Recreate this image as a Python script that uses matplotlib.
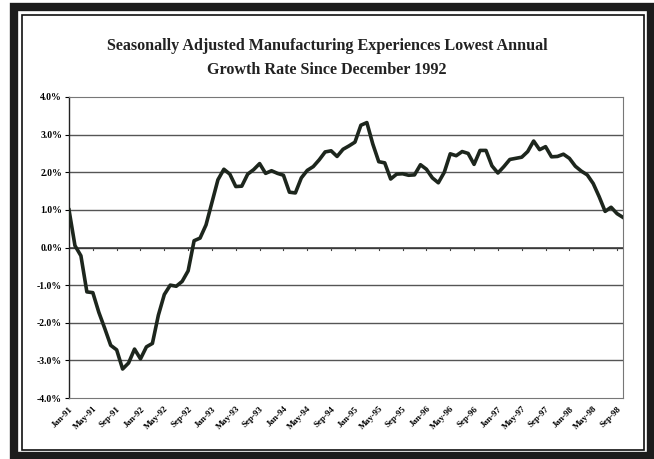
import numpy as np
import matplotlib
matplotlib.use("Agg")
import matplotlib.pyplot as plt
from matplotlib.patches import Rectangle

# monthly annual growth rate (%), Jan-91 .. Oct-98
growth = [
    1.00, 0.05, -0.22, -1.18, -1.20, -1.72, -2.15, -2.60, -2.72, -3.23,
    -3.07, -2.70, -2.96, -2.64, -2.55, -1.80, -1.25, -1.00, -1.03, -0.90,
    -0.62, 0.18, 0.25, 0.60, 1.20, 1.80, 2.08, 1.95, 1.62, 1.63,
    1.95, 2.07, 2.23, 1.97, 2.04, 1.97, 1.92, 1.47, 1.45, 1.85,
    2.05, 2.15, 2.33, 2.54, 2.57, 2.42, 2.61, 2.70, 2.80, 3.25,
    3.32, 2.75, 2.28, 2.25, 1.82, 1.95, 1.96, 1.92, 1.93, 2.20,
    2.08, 1.85, 1.72, 2.00, 2.49, 2.44, 2.55, 2.50, 2.21, 2.58,
    2.58, 2.17, 1.98, 2.15, 2.34, 2.37, 2.40, 2.55, 2.83, 2.60,
    2.68, 2.41, 2.42, 2.48, 2.37, 2.16, 2.03, 1.93, 1.70, 1.35,
    0.96, 1.07, 0.90, 0.80,
]

tick_labels = [
    "Jan-91", "May-91", "Sep-91", "Jan-92", "May-92", "Sep-92",
    "Jan-93", "May-93", "Sep-93", "Jan-94", "May-94", "Sep-94",
    "Jan-95", "May-95", "Sep-95", "Jan-96", "May-96", "Sep-96",
    "Jan-97", "May-97", "Sep-97", "Jan-98", "May-98", "Sep-98",
]
y_ticks = [-4, -3, -2, -1, 0, 1, 2, 3, 4]

SERIF = ["Liberation Serif", "DejaVu Serif"]

fig = plt.figure(figsize=(6.54, 4.59), dpi=100)

# outer frame: thick dark band plus thin inner line
W, H = 654.0, 459.0
fig.patches.append(Rectangle((14 / W, 3 / H), 637 / W, 449 / H, transform=fig.transFigure,
                             fill=False, lw=6, ec="#1c1c1c", zorder=0))
fig.patches.append(Rectangle((22 / W, 9 / H), 622 / W, 435 / H, transform=fig.transFigure,
                             fill=False, lw=1.2, ec="#111111", zorder=0))

ax = fig.add_axes([69 / W, 61 / H, 554 / W, 301 / H])

x = np.arange(len(growth))
ax.plot(x, growth, color="#1d261d", lw=2.6, solid_joinstyle="round", zorder=3)

ax.set_xlim(0, len(growth) - 1)
ax.set_ylim(-4, 4)

# horizontal gridlines
for v in y_ticks[1:-1]:
    ax.axhline(v, color="#555555", lw=1.0, zorder=1)
ax.axhline(0, color="#333333", lw=1.1, zorder=2)

# small category ticks on the zero line
for t in range(0, len(growth), 4):
    ax.plot([t, t], [0, -0.07], color="#444444", lw=0.8, zorder=2)

ax.set_yticks(y_ticks)
ax.set_yticklabels([f"{v:.1f}%" for v in y_ticks], fontsize=7, fontweight="bold", family=SERIF)
ax.set_xticks(np.arange(0, 4 * len(tick_labels), 4))
ax.set_xticklabels(tick_labels, rotation=45, ha="right", rotation_mode="anchor",
                   fontsize=6.5, fontweight="bold", family=SERIF)
ax.tick_params(axis="x", length=0, pad=5)
ax.tick_params(axis="y", length=3, width=0.8, pad=2)

for side in ["top", "right", "bottom"]:
    ax.spines[side].set_linestyle((0, (1, 1)))
    ax.spines[side].set_color("#777777")
    ax.spines[side].set_linewidth(0.8)
ax.spines["left"].set_color("#222222")
ax.spines["left"].set_linewidth(1.0)

fig.text(0.500, 1 - 46 / H, "Seasonally Adjusted Manufacturing Experiences Lowest Annual",
         ha="center", va="center", fontsize=11.6, fontweight="bold", family=SERIF, color="#222222")
fig.text(0.500, 1 - 70 / H, "Growth Rate Since December 1992",
         ha="center", va="center", fontsize=11.6, fontweight="bold", family=SERIF, color="#222222")

fig.savefig("out.png", dpi=100)
